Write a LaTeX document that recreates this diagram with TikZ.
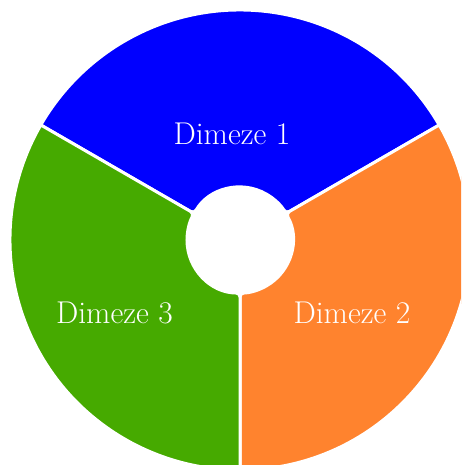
\documentclass[tikz,border=0pt]{standalone}
\begin{document}
\begin{tikzpicture}[x=1pt,y=1pt,
  sector/.style={draw=white,line width=3pt,line join=miter},
  lbl/.style={text=white,font=\fontsize{31.5}{38}\selectfont,inner sep=0pt}]
\definecolor{cblue}{RGB}{0,0,255}
\definecolor{corange}{RGB}{255,131,46}
\definecolor{cgreen}{RGB}{70,170,0}
\useasboundingbox (-240,-225) rectangle (221,240);
\clip (-240,-225) rectangle (221,240);
\def\Ro{230}
\def\Ri{53}
\path[sector,fill=cblue] (150:\Ro) [rounded corners=4pt] -- (150:\Ri) arc[start angle=150,end angle=30,radius=\Ri] [sharp corners] -- (30:\Ro) arc[start angle=30,end angle=150,radius=\Ro] -- cycle;
\path[sector,fill=corange] (30:\Ro) [rounded corners=4pt] -- (30:\Ri) arc[start angle=30,end angle=-90,radius=\Ri] [sharp corners] -- (-90:\Ro) arc[start angle=-90,end angle=30,radius=\Ro] -- cycle;
\path[sector,fill=cgreen] (270:\Ro) [rounded corners=4pt] -- (270:\Ri) arc[start angle=270,end angle=150,radius=\Ri] [sharp corners] -- (150:\Ro) arc[start angle=150,end angle=270,radius=\Ro] -- cycle;
\node[lbl] (d1) at (-8,106) {Dimeze 1};
\node[lbl] (d2) at (112,-73) {Dimeze 2};
\node[lbl] (d3) at (-125.5,-73) {Dimeze 3};
\end{tikzpicture}
\end{document}
